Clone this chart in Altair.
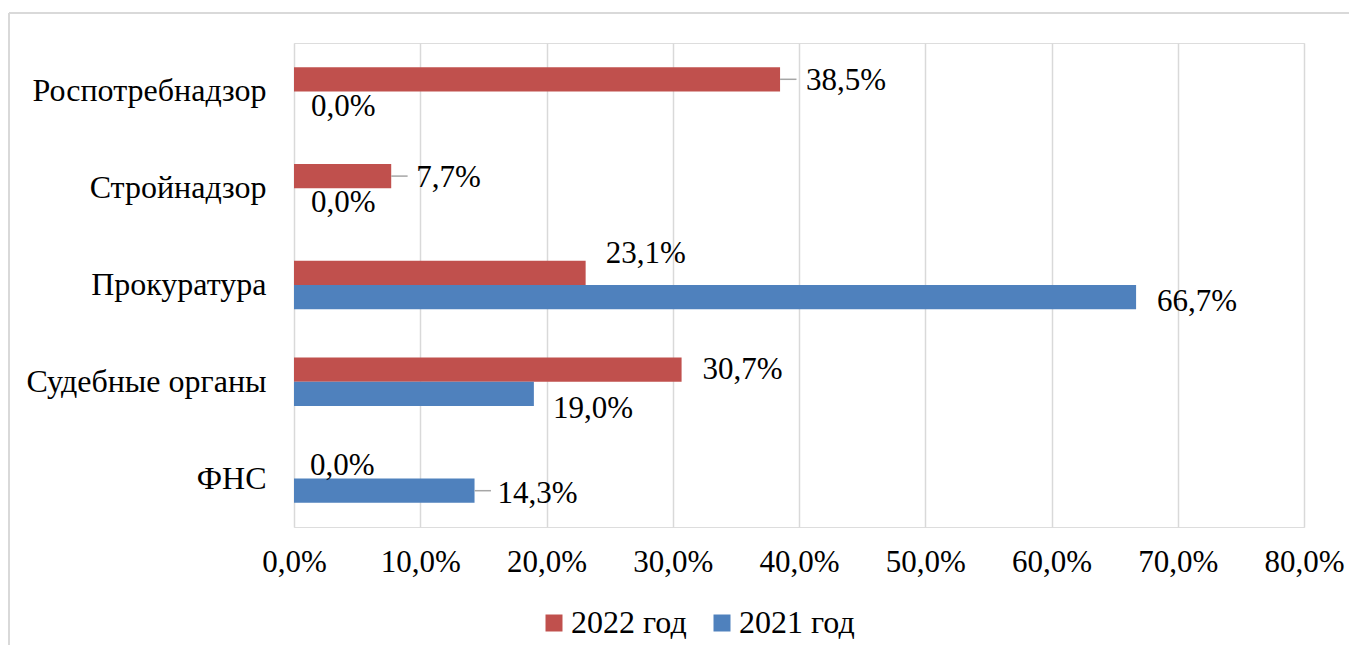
import altair as alt
import pandas as pd

categories = ["Роспотребнадзор", "Стройнадзор", "Прокуратура", "Судебные органы", "ФНС"]
series = ["2022 год", "2021 год"]
values_2022 = [38.5, 7.7, 23.1, 30.7, 0.0]
values_2021 = [0.0, 0.0, 66.7, 19.0, 14.3]
x_ticks = [0, 10, 20, 30, 40, 50, 60, 70, 80]
colors = ["#C0504D", "#4F81BD"]

# label offsets (style): (dx, dy) in pixels per series/category
label_offsets = {
    ("2022 год", "Роспотребнадзор"): (26, 2),
    ("2022 год", "Стройнадзор"): (25, 2),
    ("2022 год", "Прокуратура"): (20, -19),
    ("2022 год", "Судебные органы"): (21, 0),
    ("2022 год", "ФНС"): (16, -1),
    ("2021 год", "Роспотребнадзор"): (17, 3),
    ("2021 год", "Стройнадзор"): (17, 3),
    ("2021 год", "Прокуратура"): (21, 5),
    ("2021 год", "Судебные органы"): (19, 15),
    ("2021 год", "ФНС"): (23, 3),
}
leaders = [("2022 год", "Роспотребнадзор"), ("2022 год", "Стройнадзор"), ("2021 год", "ФНС")]

rows = []
for s, vals in zip(series, [values_2022, values_2021]):
    for c, v in zip(categories, vals):
        rows.append({"cat": c, "series": s, "value": v,
                     "label": f"{v:.1f}".replace(".", ",") + "%"})
df = pd.DataFrame(rows)

FONT = "Liberation Serif"
FS_NUM = 31
FS_TXT = 32
W, H = 1010, 484

xscale = alt.Scale(domain=[0, 80], nice=False)
yscale = alt.Scale(domain=categories, paddingInner=0.5, paddingOuter=0.25)
yoff = alt.YOffset("series:N", scale=alt.Scale(domain=series, paddingInner=0, paddingOuter=0))
color = alt.Color("series:N", scale=alt.Scale(domain=series, range=colors),
                  legend=alt.Legend(title=None, orient="none", legendX=244, legendY=564,
                                    direction="horizontal", symbolType="square", symbolSize=289,
                                    symbolStrokeWidth=0, labelFont=FONT, labelFontSize=FS_TXT,
                                    labelColor="black", labelOffset=1, columnPadding=19,
                                    labelLimit=300))

base = alt.Chart(df)

bars = base.mark_bar(size=24.2).encode(
    x=alt.X("value:Q", scale=xscale,
            axis=alt.Axis(values=x_ticks, title=None, grid=True, gridColor="#d9d9d9",
                          gridWidth=1.5, domain=False, ticks=False, labelPadding=20,
                          labelFlush=False, labelOverlap=False,
                          labelFont=FONT, labelFontSize=FS_NUM, labelColor="black",
                          labelExpr="replace(format(datum.value, '.1f'), '.', ',') + '%'")),
    y=alt.Y("cat:N", scale=yscale,
            axis=alt.Axis(title=None, domain=False, ticks=False, labelPadding=28,
                          labelFont=FONT, labelFontSize=FS_TXT, labelColor="black", labelLimit=400)),
    yOffset=yoff,
    color=color,
)

layers = [bars]

for (s, c) in leaders:
    layers.append(
        base.transform_filter((alt.datum.series == s) & (alt.datum.cat == c))
        .transform_calculate(x2="datum.value + 1.3")
        .mark_rule(color="#a6a6a6", strokeWidth=1.5)
        .encode(x=alt.X("value:Q", scale=xscale), x2="x2:Q",
                y=alt.Y("cat:N", scale=yscale), yOffset=yoff)
    )

for (s, c), (dx, dy) in label_offsets.items():
    layers.append(
        base.transform_filter((alt.datum.series == s) & (alt.datum.cat == c))
        .mark_text(align="left", baseline="middle", font=FONT, fontSize=FS_NUM,
                   color="black", dx=dx, dy=dy)
        .encode(x=alt.X("value:Q", scale=xscale), y=alt.Y("cat:N", scale=yscale),
                yOffset=yoff, text="label:N")
    )

border_left = alt.Chart(pd.DataFrame({"a": [0]})).mark_rule(color="#d9d9d9", strokeWidth=2).encode(
    x=alt.value(-285), y=alt.value(-30), y2=alt.value(700))
border_top = alt.Chart(pd.DataFrame({"a": [0]})).mark_rule(color="#d9d9d9", strokeWidth=2).encode(
    x=alt.value(-285), x2=alt.value(1075), y=alt.value(-30))
layers += [border_left, border_top]

chart = alt.layer(*layers).properties(
    width=W, height=H,
    autosize=alt.AutoSizeParams(type="none"),
    padding={"left": 286, "top": 35, "right": 45, "bottom": 118},
).configure_view(stroke=None).configure(background="white")

chart.save("out.html", embed_options={"renderer": "svg", "actions": False})
